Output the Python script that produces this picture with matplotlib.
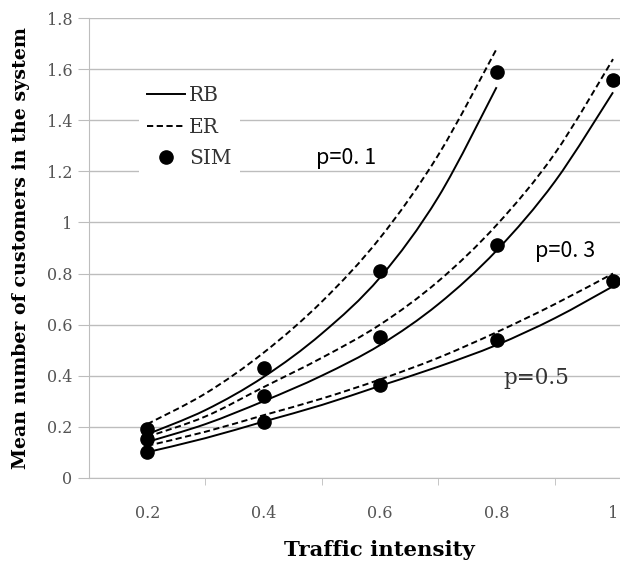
import matplotlib
matplotlib.use("Agg")
import matplotlib.pyplot as plt
from matplotlib.lines import Line2D
from matplotlib.path import Path
from matplotlib.patches import PathPatch

# Data
x_curve = [0.2, 0.3, 0.4, 0.5, 0.6, 0.7, 0.8, 0.9, 1.0]
rb_p01 = [0.17, 0.265, 0.395, 0.565, 0.785, 1.10, 1.53]
er_p01 = [0.21, 0.33, 0.49, 0.69, 0.94, 1.265, 1.68]
rb_p03 = [0.14, 0.21, 0.30, 0.40, 0.52, 0.68, 0.89, 1.16, 1.51]
er_p03 = [0.16, 0.24, 0.355, 0.47, 0.60, 0.77, 0.99, 1.27, 1.64]
rb_p05 = [0.10, 0.155, 0.22, 0.285, 0.36, 0.435, 0.52, 0.625, 0.75]
er_p05 = [0.125, 0.18, 0.245, 0.31, 0.385, 0.47, 0.57, 0.68, 0.80]

x_sim = [0.2, 0.4, 0.6, 0.8, 1.0]
sim_p01 = [0.19, 0.43, 0.81, 1.59]
sim_p03 = [0.15, 0.32, 0.55, 0.91, 1.56]
sim_p05 = [0.10, 0.22, 0.365, 0.54, 0.77]

x_ticks = [0.2, 0.4, 0.6, 0.8, 1.0]
x_tick_labels = ["0.2", "0.4", "0.6", "0.8", "1"]
y_ticks = [0, 0.2, 0.4, 0.6, 0.8, 1.0, 1.2, 1.4, 1.6, 1.8]
y_tick_labels = ["0", "0.2", "0.4", "0.6", "0.8", "1", "1.2", "1.4", "1.6", "1.8"]


def smooth_line(ax, xs, ys, **kw):
    """Draw a smoothed line (like a spreadsheet 'smoothed line') through the data."""
    pts = list(zip(xs, ys))
    n = len(pts)
    verts = [pts[0]]
    codes = [Path.MOVETO]
    for i in range(n - 1):
        p0 = pts[i - 1] if i > 0 else pts[i]
        p1 = pts[i]
        p2 = pts[i + 1]
        p3 = pts[i + 2] if i + 2 < n else pts[i + 1]
        c1 = (p1[0] + (p2[0] - p0[0]) / 6, p1[1] + (p2[1] - p0[1]) / 6)
        c2 = (p2[0] - (p3[0] - p1[0]) / 6, p2[1] - (p3[1] - p1[1]) / 6)
        verts += [c1, c2, p2]
        codes += [Path.CURVE4] * 3
    patch = PathPatch(Path(verts, codes), facecolor="none", **kw)
    ax.add_patch(patch)


fig = plt.figure(figsize=(6.2, 5.62), dpi=100)
ax = fig.add_axes([89 / 620, 1 - 477.7 / 562, 1 - 89 / 620, (477.7 - 18.3) / 562])

lw = 1.4
dash = (0, (3.2, 1.8))
smooth_line(ax, x_curve[:len(rb_p01)], rb_p01, edgecolor="black", lw=lw, zorder=3)
smooth_line(ax, x_curve[:len(er_p01)], er_p01, edgecolor="black", lw=lw, ls=dash, zorder=3)
smooth_line(ax, x_curve, rb_p03, edgecolor="black", lw=lw, zorder=3)
smooth_line(ax, x_curve, er_p03, edgecolor="black", lw=lw, ls=dash, zorder=3)
smooth_line(ax, x_curve, rb_p05, edgecolor="black", lw=lw, zorder=3)
smooth_line(ax, x_curve, er_p05, edgecolor="black", lw=lw, ls=dash, zorder=3)

ms = 9.5
ax.plot(x_sim[:len(sim_p01)], sim_p01, "o", color="black", ms=ms, zorder=4, clip_on=False)
ax.plot(x_sim, sim_p03, "o", color="black", ms=ms, zorder=4, clip_on=False)
ax.plot(x_sim, sim_p05, "o", color="black", ms=ms, zorder=4, clip_on=False)

ax.set_xlim(0.1, 1.0 + 7 / 585 * 1.0)
ax.set_ylim(0, 1.8)

grid_c = "#bdbdbd"
ax.set_yticks(y_ticks)
ax.set_yticklabels(y_tick_labels)
ax.yaxis.grid(True, color=grid_c, lw=1.0, zorder=0)
ax.set_axisbelow(True)

ax.set_xticks(x_ticks)
ax.set_xticklabels(x_tick_labels)
ax.set_xticks([0.3, 0.5, 0.7, 0.9], minor=True)
ax.tick_params(axis="x", which="major", length=0, pad=20)
ax.tick_params(axis="x", which="minor", length=5, color=grid_c, direction="out")
ax.tick_params(axis="y", which="major", length=8, color=grid_c, direction="out", pad=4)

for lab in ax.get_xticklabels() + ax.get_yticklabels():
    lab.set_fontfamily("DejaVu Serif")
    lab.set_fontsize(11.5)
    lab.set_color("#555555")

for s in ["top", "right"]:
    ax.spines[s].set_visible(False)
ax.spines["left"].set_color(grid_c)
ax.spines["bottom"].set_color(grid_c)

ax.set_xlabel("Traffic intensity", family="DejaVu Serif", fontweight="bold",
              fontsize=15.3, labelpad=10)
ax.xaxis.set_label_coords((379 - 89) / 531, -0.135)
ax.set_ylabel("Mean number of customers in the system", family="DejaVu Serif",
              fontweight="bold", fontsize=13.7)
ax.yaxis.set_label_coords((30 - 89) / 531, 0.5)

handles = [
    Line2D([], [], color="black", lw=lw),
    Line2D([], [], color="black", lw=lw, ls=dash),
    Line2D([], [], color="black", marker="o", ls="none", ms=ms),
]
leg = ax.legend(handles, ["RB", "ER", "SIM"], loc="upper left",
                bbox_to_anchor=(0.075, 0.891), frameon=True, fancybox=False,
                edgecolor="none", facecolor="white", framealpha=1,
                prop={"family": "DejaVu Serif", "size": 14.5},
                handlelength=1.9, handletextpad=0.2, labelspacing=0.62,
                borderpad=0.4)
for t in leg.get_texts():
    t.set_color("#333333")

ax.text(0.541, 1.253, "p=0. 1", family=["Noto Sans CJK JP", "DejaVu Sans"],
        fontsize=15.5, ha="center", va="center", zorder=5)
ax.text(0.917, 0.89, "p=0. 3", family=["Noto Sans CJK JP", "DejaVu Sans"],
        fontsize=15.5, ha="center", va="center", zorder=5)
ax.text(0.868, 0.39, "p=0.5", family="DejaVu Serif", fontsize=15.5,
        ha="center", va="center", color="#333333", zorder=5)

fig.savefig("out.png", dpi=100)
